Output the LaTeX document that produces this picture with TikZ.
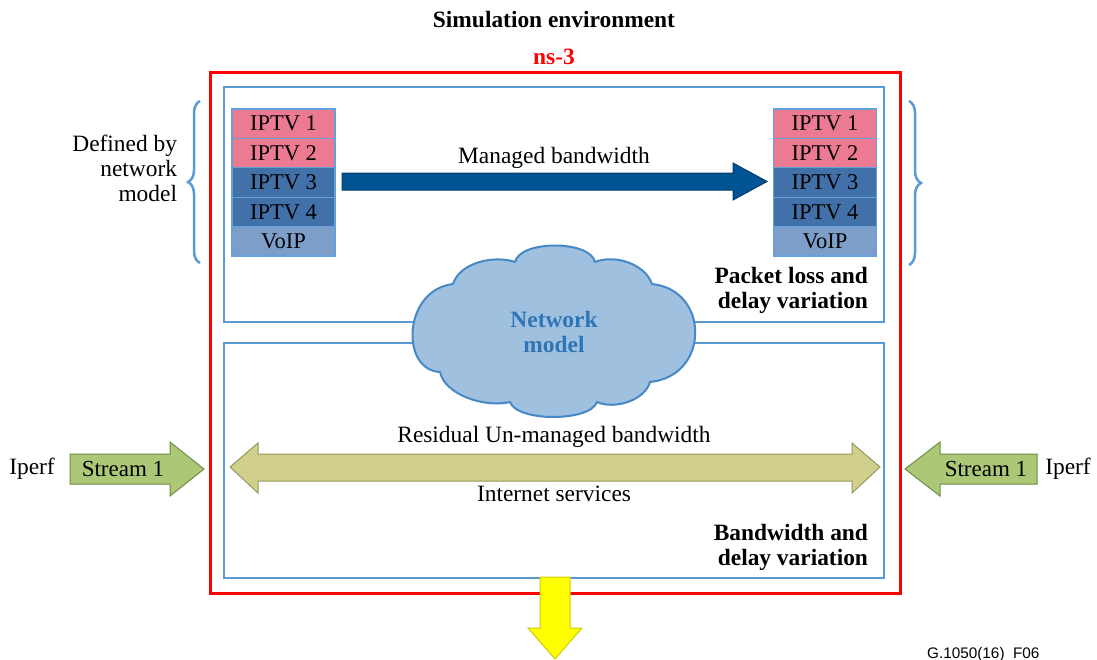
\documentclass[tikz,border=0pt]{standalone}
\usepackage{fontspec}
\setmainfont{Liberation Serif}
\newfontfamily\figsans{Liberation Sans}
\usetikzlibrary{decorations.pathreplacing}

\definecolor{frameblue}{RGB}{91,155,213}
\definecolor{framered}{RGB}{255,0,0}
\definecolor{iptvpink}{RGB}{235,122,146}
\definecolor{iptvblue}{RGB}{66,112,168}
\definecolor{voipblue}{RGB}{124,158,200}
\definecolor{rowline}{RGB}{100,160,220}
\definecolor{mgdblue}{RGB}{0,84,148}
\definecolor{mgdedge}{RGB}{0,60,110}
\definecolor{cloudfill}{RGB}{160,192,224}
\definecolor{cloudline}{RGB}{70,136,198}
\definecolor{cloudtext}{RGB}{46,117,182}
\definecolor{olivefill}{RGB}{208,208,140}
\definecolor{oliveedge}{RGB}{150,150,95}
\definecolor{greenfill}{RGB}{172,200,118}
\definecolor{greenedge}{RGB}{110,140,70}
\definecolor{yellowfill}{RGB}{255,255,0}
\definecolor{yellowedge}{RGB}{205,205,0}

\tikzset{
  txt/.style={inner sep=0pt, outer sep=0pt, font=\fontsize{23.4}{25}\selectfont},
  boldtxt/.style={txt, font=\fontsize{23.4}{25}\selectfont\bfseries},
  row/.style={draw=rowline, line width=1.2pt, minimum width=103pt, minimum height=29.4pt,
              inner sep=0pt, font=\fontsize{22.5}{25}\selectfont},
  frame/.style={draw=frameblue, line width=2.5pt},
  brace/.style={draw=frameblue, line width=2.5pt, decorate, decoration={brace, amplitude=12pt}},
  blockarrow/.style={line width=1pt, line join=miter},
}

\begin{document}
\begin{tikzpicture}[x=1pt, y=-1pt]
\useasboundingbox (0,0) rectangle (1097,659);

% titles
\node[boldtxt] (title) at (554,20) {Simulation environment};
\node[boldtxt, text=framered] (ns) at (554,57) {ns-3};

% simulator frame and the two network areas
\draw[draw=framered, line width=3pt] (210,72) rectangle (900,593);
\draw[frame] (224,87) rectangle (884,322);
\draw[frame] (224,343) rectangle (884,578);

% service stacks
\foreach \side/\cx in {l/283.5, r/825} {
  \node[row, fill=iptvpink] (\side1) at (\cx,123.7) {IPTV 1};
  \node[row, fill=iptvpink] (\side2) at (\cx,153.1) {IPTV 2};
  \node[row, fill=iptvblue] (\side3) at (\cx,182.5) {IPTV 3};
  \node[row, fill=iptvblue] (\side4) at (\cx,211.9) {IPTV 4};
  \node[row, fill=voipblue] (\side5) at (\cx,241.3) {VoIP};
}

% managed bandwidth arrow
\fill[mgdblue, draw=mgdedge, blockarrow]
  (342,173) -- (733,173) -- (733,163) -- (767,181.5) -- (733,200) -- (733,190) -- (342,190) -- cycle;
\node[txt] (mgd) at (554,158) {Managed bandwidth};

% braces
\draw[brace] (200,263) -- (200,101);
\draw[brace] (909,101) -- (909,265);
\node[txt, align=right, anchor=east] (defby) at (177,168) {Defined by\\network\\model};

% area labels
\node[boldtxt, align=right, anchor=east] (plabel) at (868,290.5) {Packet loss and\\delay variation};
\node[boldtxt, align=right, anchor=east] (blabel) at (868,547.5) {Bandwidth and\\delay variation};

% network model cloud, one curve per lobe
\draw[draw=cloudline, fill=cloudfill, line width=2pt, line join=round]
  (515,262) .. controls (520,240) and (590,240) .. (595,262)
            .. controls (615,254) and (645,264) .. (652,284)
            .. controls (710,290) and (710,376) .. (650,382)
            .. controls (645,400) and (615,410) .. (597,402)
            .. controls (590,422) and (517,422) .. (510,402)
            .. controls (485,408) and (445,395) .. (440,372)
            .. controls (400,370) and (403,290) .. (453,284)
            .. controls (460,262) and (495,255) .. (515,262) -- cycle;
\node[boldtxt, text=cloudtext, align=center] (net) at (554,332) {Network\\model};

% residual un-managed bandwidth double arrow
\fill[olivefill, draw=oliveedge, blockarrow]
  (230,467) -- (258,443) -- (258,454) -- (852,454) -- (852,443) -- (880,467)
  -- (852,493) -- (852,481) -- (258,481) -- (258,493) -- cycle;
\node[txt] (resid) at (554,437) {Residual Un-managed bandwidth};
\node[txt] (inet) at (554,494) {Internet services};

% iperf streams
\fill[greenfill, draw=greenedge, blockarrow]
  (70,454) -- (170,454) -- (170,442) -- (204,469) -- (170,496) -- (170,484) -- (70,484) -- cycle;
\node[txt, font=\fontsize{23}{25}\selectfont] (sl) at (123,469) {Stream 1};
\node[txt] (il) at (32,469) {Iperf};
\fill[greenfill, draw=greenedge, blockarrow]
  (1037,454) -- (940,454) -- (940,442) -- (905,469) -- (940,496) -- (940,484) -- (1037,484) -- cycle;
\node[txt, font=\fontsize{23}{25}\selectfont] (sr) at (986,469) {Stream 1};
\node[txt] (ir) at (1068,469) {Iperf};

% output arrow
\fill[yellowfill, draw=yellowedge, blockarrow]
  (540,577) -- (570,577) -- (570,628) -- (582,628) -- (555,659) -- (528,628) -- (540,628) -- cycle;

% figure tag
\node[inner sep=0pt, anchor=base west, font=\figsans\fontsize{15.3}{17}\selectfont] (tag) at (927,658) {G.1050(16)\_F06};
\end{tikzpicture}
\end{document}
